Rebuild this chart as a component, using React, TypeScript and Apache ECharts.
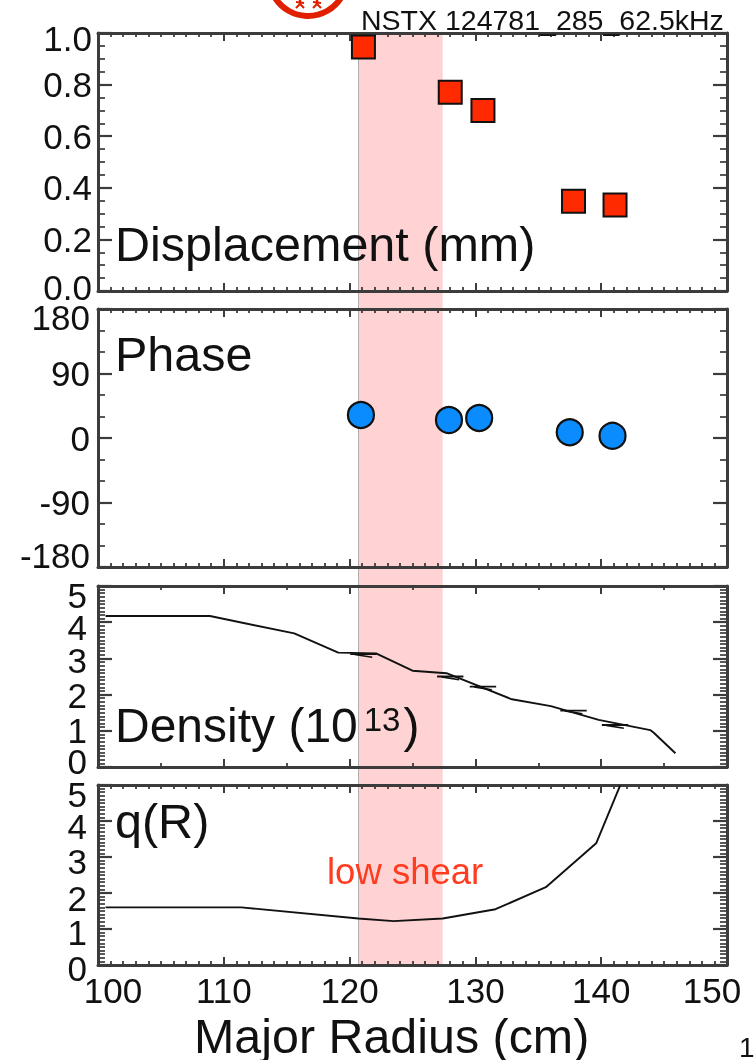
import React, { useEffect, useRef } from "react";
import * as echarts from "echarts";

const FONT = "Liberation Sans";
const INK = "#111111";
const FRAME = "#3c3c3c";
const TICK_SIZE = 35;

const bandRange = [120.7, 127.4];

const probeRadius = [121.1, 128.0, 130.6, 137.8, 141.1];
const displacement = [0.946, 0.77, 0.70, 0.348, 0.333];
const phaseRadius = [120.9, 127.9, 130.3, 137.5, 140.9];
const phase = [32, 25, 28, 8, 3];

const densityRadius = [100.6, 108.9, 115.6, 119.1, 122.1, 125.0, 127.7, 132.9, 136.0, 139.8, 143.9, 144.2, 145.9];
const density = [4.17, 4.17, 3.69, 3.16, 3.14, 2.66, 2.59, 1.87, 1.68, 1.30, 1.02, 0.94, 0.38];
const densityProbe = [3.09, 2.47, 2.19, 1.53, 1.13];

const qRadius = [100.6, 111.4, 120.7, 123.5, 127.4, 131.6, 135.6, 139.6, 141.5];
const qValues = [1.60, 1.60, 1.29, 1.22, 1.29, 1.55, 2.16, 3.38, 4.98];

type Panel = {
  top: number; height: number; min: number; max: number; interval: number;
  ySplit: number; xSplit: number; margin: number; shift: Record<string, number>;
  digits: number; showX?: boolean;
};

const panels: Panel[] = [
  { top: 33, height: 258, min: 0, max: 1, interval: 0.2, ySplit: 4, xSplit: 10, margin: 6, digits: 1,
    shift: { "1.0": 5, "0.0": -4 } },
  { top: 309, height: 258, min: -180, max: 180, interval: 90, ySplit: 3, xSplit: 10, margin: 8, digits: 0,
    shift: { "180": 8, "-180": -12 } },
  { top: 586, height: 181, min: 0, max: 5, interval: 1, ySplit: 10, xSplit: 2, margin: 11, digits: 0,
    shift: { "5": 9, "4": 5, "3": 2, "2": 1, "0": -6 } },
  { top: 785, height: 180, min: 0, max: 5, interval: 1, ySplit: 10, xSplit: 10, margin: 11, digits: 0, showX: true,
    shift: { "5": 9, "4": 5, "3": 4, "2": 5, "1": 3, "0": 3 } },
];

const LEFT = 98;
const WIDTH = 629;

function buildOption() {
  const grid: any[] = [{ left: LEFT, width: WIDTH, top: 33, height: 934 }];
  const xAxis: any[] = [{ gridIndex: 0, type: "value", min: 100, max: 150, show: false }];
  const yAxis: any[] = [{ gridIndex: 0, type: "value", min: 0, max: 1, show: false }];
  const line = { show: true, onZero: false, lineStyle: { color: FRAME, width: 3 } };

  panels.forEach((p, i) => {
    const g = i + 1;
    grid.push({ left: LEFT, width: WIDTH, top: p.top, height: p.height });
    ["bottom", "top"].forEach((position, k) => {
      xAxis.push({
        gridIndex: g, type: "value", position, min: 100, max: 150, interval: 10,
        axisLine: line,
        axisTick: { show: true, inside: true, length: 8, lineStyle: { color: FRAME, width: 2 } },
        minorTick: { show: true, splitNumber: p.xSplit, length: 4, lineStyle: { color: FRAME, width: 1.8 } },
        splitLine: { show: false },
        axisLabel: p.showX && k === 0
          ? {
              show: true, margin: 8, fontFamily: FONT, fontSize: TICK_SIZE, color: INK,
              showMinLabel: true, showMaxLabel: true,
              formatter: (v: number) => `{${v === 100 ? "lo" : v === 150 ? "hi" : "m"}|${v}}`,
              rich: {
                m: { fontFamily: FONT, fontSize: TICK_SIZE, color: INK },
                lo: { fontFamily: FONT, fontSize: TICK_SIZE, color: INK, padding: [0, 0, 0, 30] },
                hi: { fontFamily: FONT, fontSize: TICK_SIZE, color: INK, padding: [0, 30, 0, 0] },
              },
            }
          : { show: false },
      });
    });

    const rich: any = { n: { fontFamily: FONT, fontSize: TICK_SIZE, color: INK } };
    const keys = Object.keys(p.shift);
    keys.forEach((key, idx) => {
      const s = p.shift[key];
      rich[`s${idx}`] = {
        fontFamily: FONT, fontSize: TICK_SIZE, color: INK,
        padding: s > 0 ? [2 * s, 0, 0, 0] : [0, 0, -2 * s, 0],
      };
    });
    // The labels of one panel alternate between two coincident left axes, so that
    // the shifted labels are not dropped by the axis' overlap handling.
    const labelsFor = (parity: number) => ({
      show: true, margin: p.margin, fontFamily: FONT, fontSize: TICK_SIZE, color: INK,
      showMinLabel: true, showMaxLabel: true, hideOverlap: false,
      formatter: (v: number) => {
        if (Math.round((v - p.min) / p.interval) % 2 !== parity) return "";
        const t = v.toFixed(p.digits);
        const idx = keys.indexOf(t);
        return idx >= 0 ? `{s${idx}|${t}}` : `{n|${t}}`;
      },
      rich,
    });
    const yBase = { gridIndex: g, type: "value", min: p.min, max: p.max, interval: p.interval, splitLine: { show: false } };
    const yFrame = {
      axisLine: line,
      axisTick: { show: true, inside: true, length: 14, lineStyle: { color: FRAME, width: 2.2 } },
      minorTick: { show: true, splitNumber: p.ySplit, length: 7, lineStyle: { color: FRAME, width: 1.7 } },
    };
    yAxis.push({ ...yBase, ...yFrame, position: "left", axisLabel: labelsFor(0) });
    yAxis.push({ ...yBase, ...yFrame, position: "right", axisLabel: { show: false } });
    yAxis.push({
      ...yBase, position: "left", axisLine: { show: false }, axisTick: { show: false }, minorTick: { show: false },
      axisLabel: labelsFor(1),
    });
  });

  const axisFor = (panel: number) => ({ xAxisIndex: 1 + panel * 2, yAxisIndex: 1 + panel * 3 });
  const zip = (a: number[], b: number[]) => a.map((v, i) => [v, b[i]]);
  const dashes = (offset: number, half: number, tilt: number) =>
    probeRadius.flatMap((r, i) => [
      [r - half, densityProbe[i] + offset + tilt],
      [r + half, densityProbe[i] + offset - tilt],
      [null, null],
    ]);
  const curve = { type: "line", symbol: "none", lineStyle: { color: INK, width: 1.9 }, connectNulls: false };

  const series: any[] = [
    {
      type: "line", xAxisIndex: 0, yAxisIndex: 0, z: -1, data: [], silent: true,
      markArea: { z: -1, silent: true, itemStyle: { color: "#ffd3d3", opacity: 1 }, data: [[{ xAxis: bandRange[0] }, { xAxis: bandRange[1] }]] },
      markLine: {
        z: -1, silent: true, symbol: "none", label: { show: false },
        lineStyle: { color: "#aeaeae", width: 1, type: "solid" },
        data: [{ xAxis: bandRange[0] }],
      },
    },
    {
      type: "scatter", ...axisFor(0), symbol: "rect", symbolSize: 23, z: 5,
      itemStyle: { color: "#ff2a00", borderColor: "#111111", borderWidth: 2, opacity: 1 },
      data: zip(probeRadius, displacement),
    },
    {
      type: "scatter", ...axisFor(1), symbol: "circle", symbolSize: 26, z: 5,
      itemStyle: { color: "#0a8cff", borderColor: "#111111", borderWidth: 2.2, opacity: 1 },
      data: zip(phaseRadius, phase),
    },
    { ...curve, ...axisFor(2), data: zip(densityRadius, density) },
    { ...curve, ...axisFor(2), lineStyle: { color: INK, width: 1.8 }, data: dashes(0.03, 1.05, 0) },
    { ...curve, ...axisFor(2), lineStyle: { color: INK, width: 1.6 }, data: dashes(-0.02, 0.7, 0.04) },
    { ...curve, ...axisFor(3), data: zip(qRadius, qValues) },
  ];

  const label = (text: string, x: number, y: number, fontSize: number, fill = INK, extra: any = {}) => ({
    type: "text", x, y, z: 20, silent: true,
    style: { text, fontFamily: FONT, fontSize, fill, verticalAlign: "middle", align: "left", ...extra },
  });

  const logoStroke = { fill: "none", stroke: "#e02000" };
  const graphic: any[] = [
    { type: "circle", z: 20, silent: true, shape: { cx: 308, cy: -23, r: 39 }, style: { ...logoStroke, lineWidth: 6 } },
    ...[300, 317].flatMap((x) => [
      { type: "polyline", z: 20, silent: true, shape: { points: [[x, 0], [x, 5]] }, style: { ...logoStroke, lineWidth: 2.5 } },
      { type: "polyline", z: 20, silent: true, shape: { points: [[x - 4, 2], [x + 4, 3]] }, style: { ...logoStroke, lineWidth: 2 } },
      { type: "polyline", z: 20, silent: true, shape: { points: [[x - 4, 8], [x, 4], [x + 4, 8]] }, style: { ...logoStroke, lineWidth: 2 } },
    ]),
    label("NSTX 124781_285_62.5kHz", 361, 20, 28.5),
    label("Displacement (mm)", 115, 244, 48.5),
    label("Phase", 115, 354, 48.5),
    {
      type: "text", x: 115, y: 725, z: 20, silent: true,
      style: {
        text: "{a|Density (10}{b|13}{a|)}", fontFamily: FONT, fontSize: 48, fill: INK, verticalAlign: "middle",
        rich: {
          a: { fontFamily: FONT, fontSize: 48, fill: INK, verticalAlign: "bottom" },
          b: { fontFamily: FONT, fontSize: 33, fill: INK, verticalAlign: "top", padding: [2, 3, 0, 6] },
        },
      },
    },
    label("q(R)", 115, 821, 48.5),
    label("low shear", 327, 871, 36.5, "#ff3b20"),
    label("Major Radius (cm)", 194, 1036, 48.4),
    label("1", 739, 1047, 28),
  ];

  return { animation: false, backgroundColor: "#ffffff", grid, xAxis, yAxis, series, graphic };
}

export default function App() {
  const ref = useRef<HTMLDivElement>(null);
  useEffect(() => {
    document.body.style.margin = "0";
    document.body.style.overflow = "hidden";
    const chart = echarts.init(ref.current!, undefined, { renderer: "svg" });
    chart.setOption(buildOption());
    return () => chart.dispose();
  }, []);
  return <div ref={ref} style={{ width: 755, height: 1060, filter: "blur(0.5px)" }} />;
}
